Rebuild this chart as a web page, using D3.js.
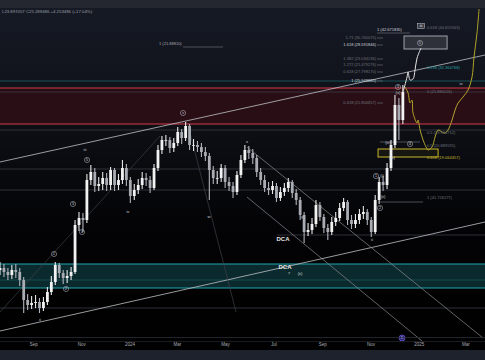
<!DOCTYPE html>
<html><head><meta charset="utf-8">
<script src="https://cdn.jsdelivr.net/npm/d3@7"></script>
<style>body{margin:0;background:#1e222d;overflow:hidden} svg{display:block}</style>
</head><body>
<svg id="c" width="485" height="360"></svg>
<script>
// ---------- data ----------
const startDate = new Date(2023, 6, 21);
const stepDays = 5;
const firstOpen = 7.0;
const closes = [7.2,6.8,6.5,7.0,6.8,6.0,4.0,3.5,3.7,3.8,
 3.2,3.8,4.8,5.8,7.5,6.7,6.2,6.4,6.8,11.5,
 12.2,12.0,16.0,16.8,15.4,15.6,16.2,15.5,17.0,15.5,
 16.0,17.2,16.0,14.4,15.0,15.5,16.2,16.0,15.2,17.2,
 19.0,20.0,20.0,19.2,19.7,20.8,20.2,21.4,19.5,19.5,
 19.3,18.8,18.4,17.0,16.2,16.2,17.2,15.8,15.4,14.8,
 16.5,18.0,19.0,18.7,18.2,16.8,16.0,15.2,15.0,15.4,
 14.2,14.8,15.2,15.8,14.7,14.0,12.5,10.8,11.0,11.6,
 13.5,12.3,11.2,10.8,11.8,12.2,13.2,13.8,12.0,11.6,
 12.0,12.6,12.8,12.0,10.8,14.0,15.8,15.5,17.2,19.5,
 23.5,22.0,24.8];
const highs = [7.8,7.6,7.2,7.5,7.6,7.2,6.3,4.6,4.4,4.5,
 4.2,4.3,5.3,6.4,7.8,7.7,7.0,7.0,7.3,12.0,
 12.8,12.7,16.6,17.5,17.2,16.3,16.8,16.7,17.3,17.2,
 16.6,18.0,17.6,16.3,15.6,16.1,16.8,16.7,16.4,17.6,
 19.5,20.4,20.5,20.3,20.2,21.3,21.1,21.8,21.6,20.1,
 19.9,19.7,19.3,18.7,17.4,16.9,17.6,17.5,16.3,15.8,
 16.9,18.5,19.5,19.4,19.1,18.5,17.2,16.5,15.8,15.9,
 15.7,15.3,15.7,16.2,16.0,15.1,14.3,12.8,11.7,12.2,
 14.0,13.8,12.6,11.6,12.3,12.8,13.7,14.2,14.0,12.5,
 12.6,13.1,13.4,13.1,12.3,14.5,16.3,16.4,17.7,20.0,
 24.5,24.2,25.5];
const lows = [6.5,6.3,6.0,6.1,6.2,5.4,2.7,3.0,3.1,3.2,
 2.7,2.9,3.5,4.5,5.5,6.2,5.6,5.7,6.0,6.6,
 10.9,10.8,11.7,15.5,14.8,14.9,15.0,14.9,15.0,14.9,
 15.0,15.6,15.4,13.7,14.0,14.6,15.1,15.4,14.7,15.0,
 16.9,18.6,19.4,18.7,18.8,19.4,19.6,19.9,19.0,18.9,
 18.8,18.3,17.9,14.0,15.6,15.6,15.8,15.2,14.9,14.2,
 14.5,16.2,17.7,18.1,17.6,16.3,15.5,14.8,14.5,14.6,
 13.8,13.9,14.4,14.8,14.2,13.5,12.0,9.7,10.4,10.6,
 11.3,11.9,10.7,10.0,10.5,11.4,11.9,12.9,11.5,11.1,
 11.2,11.6,12.1,11.5,10.3,10.6,13.6,14.9,15.1,16.9,
 19.2,20.0,21.6];

const tickDates = ["2023-09-01","2023-11-01","2024-01-01","2024-03-01","2024-05-01","2024-07-01","2024-09-01","2024-11-01","2025-01-01","2025-03-01"];
const tickLabels = ["Sep","Nov","2024","Mar","May","Jul","Sep","Nov","2025","Mar"];

// projections: [days from start, price]
const projWhite = [[510.2,24.8],[515.3,26.3],[516.6,26.8],[519.1,26.0],[522.9,26.1],[525.4,27.0],[528.0,28.2],[533.0,29.2]];
const projYellow = [[512.8,25.3],[516.6,24.7],[519.1,23.7],[521.6,24.0],[522.9,22.7],[528.0,21.7],[529.2,22.0],[531.8,21.0],[535.6,20.0],[539.4,19.3],[541.9,19.0],[547.0,19.3],[550.8,20.3],[554.6,21.0],[559.6,20.8],[563.4,20.7],[567.2,21.0],[572.3,22.0],[576.1,23.0],[579.9,23.7],[586.2,24.3],[592.5,25.0],[597.6,26.3],[600.1,28.3],[603.9,30.7],[606.5,33.1]];

// trend lines: [t1,p1,t2,p2,kind]
const trendLines = [[0,17.8,614,28.5,"ch"],[0,0.9,614,11.8,"ch"],[0,2.8,202.6,20.4,"faint"],[238,21.5,298.8,2.8,"faint"],[312.7,19.3,611.5,0.2,"desc"],[312.7,14.3,534.3,-0.1,"desc"]];

// horizontal levels: [price, kind, tStart]
const levels = [[25.9,"teal",0],[24.8,"gray",0],[21.0,"gray",0],[17.1,"gray",0],[15.0,"gray",0],[3.2,"gray",0],[6.0,"cyanFaint",0],[10.5,"gray",350.7]];
const redBand = [21.6, 25.2];
const cyanBand = [5.2, 7.6];
// short segments: [t1,t2,price]
const shortSegs = [[231.7,282.4,29.3],[477.3,519,30.7],[477.3,484.9,30.2],[477.3,484.9,29.5],[477.3,484.9,28.1],[477.3,484.9,27.5],[477.3,484.9,26.8],[477.3,484.9,25.9],[477.3,484.9,23.7],[481,531.8,19.8],[481,535.6,13.8]];
const targetBox = [511.5,566,29.1,30.4];
const yellowBox = [478.6,554.6,18.3,19.1];

// fib labels: [text, t, price, anchor, style]
const fibLabels = [
 ["1.71 (30.740075)",476.1,30.2,"end","dim"],
 ["1.618 (28.591846)",476.1,29.5,"end","bright"],
 ["1.382 (23.034236)",476.1,28.1,"end","dim"],
 ["1.272 (21.479276)",476.1,27.5,"end","dim"],
 ["0.618 (27.798170)",476.1,26.8,"end","dim"],
 ["1 (25.948885)",476.1,25.9,"end","bright"],
 ["0.618 (21.806657)",476.1,23.7,"end","dim"],
 ["1 (42.671835)",477.3,31.0,"start","bright"],
 ["0.618 (44.657063)",540.6,31.2,"start","dim"],
 ["0.236 (32.364768)",540.6,27.2,"start","teal"],
 ["0 (21.880024)",540.6,24.8,"start","dim"],
 ["0.5 (19.944712)",540.6,20.7,"start","dim"],
 ["0.5 (20.889595)",540.6,19.4,"start","dim"],
 ["0.618 (19.064457)",540.6,18.2,"start","yellow"],
 ["1 (41.726177)",540.6,14.2,"start","dim"],
 ["1 (21.88810)",201.3,29.6,"start","mid"]
];
// wave labels: [t, price, text, kind] kind: 0 plain, 1 circled, 2 DCA, 3 boxed
const waveLabels = [
 [50.6,2.0,"ii",0],[68.4,8.6,"1",1],[83.6,5.1,"2",1],[92.4,13.6,"3",1],[103.8,10.8,"4",1],
 [107.6,19.0,"iii",0],[110.2,18.0,"5",1],[162,12.8,"iv",0],[231.7,22.7,"v",1],[264.6,12.3,"w",0],
 [312.7,19.8,"x",0],[382.4,12.3,"y",0],[358.3,10.1,"DCA",2],[360.8,7.3,"DCA",2],[365.9,6.6,"?",0],
 [379.8,6.6,"(ii)",0],[471,10.0,"ii",0],[476,16.4,"1",1],[483.6,16.4,"(i)",0],[484.9,14.3,"(ii)",0],
 [481.1,13.2,"2",1],[491.2,19.7,"(iii)",0],[496.3,18.2,"(iv)",0],[503.9,25.3,"3",1],[503.9,24.7,"(v)",0],
 [519.1,19.6,"4",1],[531.8,29.7,"5",1],[533,31.4,"iii",3],[583.7,25.6,"iv",0]
];
const headerText = "L23.897057  C25.289486  +4.253486 (+17.04%)";
const markerE = [509, 0.2, "E"];

// ---------- drawing ----------
const W = 485, H = 360;
const svg = d3.select("#c");
const T = t => new Date(+startDate + t * 864e5);
const x = d3.scaleTime().domain([startDate, T(614)]).range([0, W]);
const y = d3.scaleLinear().domain([0, 34]).range([340, 0]);
const parse = d3.timeParse("%Y-%m-%d");
const FONT = "'Liberation Sans', Arial, sans-serif";

const defs = svg.append("defs");
const grad = defs.append("linearGradient").attr("id","bg").attr("x1",0).attr("y1",0).attr("x2",0).attr("y2",1);
grad.append("stop").attr("offset","0%").attr("stop-color","#161a25");
grad.append("stop").attr("offset","35%").attr("stop-color","#0d0f15");
grad.append("stop").attr("offset","65%").attr("stop-color","#030305");
grad.append("stop").attr("offset","100%").attr("stop-color","#000000");
defs.append("clipPath").attr("id","clip").append("rect").attr("x",0).attr("y",8).attr("width",W).attr("height",333);

svg.append("rect").attr("width",W).attr("height",H).attr("fill","#1e222d");
svg.append("rect").attr("x",0).attr("y",0).attr("width",W).attr("height",8).attr("fill","#24272f");
svg.append("rect").attr("x",0).attr("y",8).attr("width",W).attr("height",342).attr("fill","url(#bg)");

const g = svg.append("g").attr("clip-path","url(#clip)");

// bands
g.append("rect").attr("x",0).attr("width",W).attr("y",y(redBand[1])).attr("height",y(redBand[0])-y(redBand[1])).attr("fill","#2a0e16");
g.append("rect").attr("x",0).attr("width",W).attr("y",y(cyanBand[1])).attr("height",y(cyanBand[0])-y(cyanBand[1])).attr("fill","#0b2a2e");

// levels
const lvlColor = {teal:"#1d5a60", gray:"#34373f", cyanFaint:"#1a4f55"};
levels.forEach(l => {
  g.append("line").attr("x1",x(T(l[2]))).attr("x2",W).attr("y1",y(l[0])).attr("y2",y(l[0]))
   .attr("stroke",lvlColor[l[1]]).attr("stroke-width",0.9);
});
redBand.forEach(p => g.append("line").attr("x1",0).attr("x2",W).attr("y1",y(p)).attr("y2",y(p)).attr("stroke","#d23a4b").attr("stroke-width",1.2));
cyanBand.forEach(p => g.append("line").attr("x1",0).attr("x2",W).attr("y1",y(p)).attr("y2",y(p)).attr("stroke","#23a6b0").attr("stroke-width",1));

// short segments
shortSegs.forEach(s => g.append("line").attr("x1",x(T(s[0]))).attr("x2",x(T(s[1]))).attr("y1",y(s[2])).attr("y2",y(s[2])).attr("stroke","#5d6069").attr("stroke-width",0.8));

// trend lines
const tlStyle = {ch:["#bfc1c6",0.8], faint:["#3e4048",0.7], desc:["#8a8c92",0.7]};
trendLines.forEach(l => g.append("line").attr("x1",x(T(l[0]))).attr("y1",y(l[1])).attr("x2",x(T(l[2]))).attr("y2",y(l[3]))
  .attr("stroke",tlStyle[l[4]][0]).attr("stroke-width",tlStyle[l[4]][1]));

// boxes
g.append("rect").attr("x",x(T(targetBox[0]))).attr("y",y(targetBox[3])).attr("width",x(T(targetBox[1]))-x(T(targetBox[0]))).attr("height",y(targetBox[2])-y(targetBox[3]))
 .attr("fill","#2e3139").attr("stroke","#9fa2a9").attr("stroke-width",1);
g.append("rect").attr("x",x(T(yellowBox[0]))).attr("y",y(yellowBox[3])).attr("width",x(T(yellowBox[1]))-x(T(yellowBox[0]))).attr("height",y(yellowBox[2])-y(yellowBox[3]))
 .attr("fill","rgba(200,180,30,0.06)").attr("stroke","#cbb82a").attr("stroke-width",1);

// candles
const candles = closes.map((c,i) => ({d:T(i*stepDays), o: i ? closes[i-1] : firstOpen, c, h: highs[i], l: lows[i]}));
const cg = g.append("g");
cg.selectAll("line.w").data(candles).join("line").attr("class","w")
  .attr("x1",d=>x(d.d)).attr("x2",d=>x(d.d)).attr("y1",d=>y(d.h)).attr("y2",d=>y(d.l))
  .attr("stroke",d=>d.c>=d.o?"#e6e6e6":"#b0b3ba").attr("stroke-width",1.1);
cg.selectAll("rect.b").data(candles).join("rect").attr("class","b")
  .attr("x",d=>x(d.d)-1.4).attr("width",2.8)
  .attr("y",d=>y(Math.max(d.o,d.c))).attr("height",d=>Math.max(0.8,Math.abs(y(d.o)-y(d.c))))
  .attr("fill",d=>d.c>=d.o?"#f2f2f2":"#a9acb3");

// projections
const lineGen = d3.line().x(d=>x(T(d[0]))).y(d=>y(d[1])).curve(d3.curveCatmullRom.alpha(0.5));
g.append("path").attr("d",lineGen(projYellow)).attr("fill","none").attr("stroke","#b2a32b").attr("stroke-width",1);
g.append("path").attr("d",lineGen(projWhite)).attr("fill","none").attr("stroke","#e2e2e2").attr("stroke-width",1);

// fib labels
const fibColor = {dim:"#6f727b", mid:"#a5a8b0", bright:"#d1d4dc", teal:"#2aa1a8", yellow:"#c9b62c"};
fibLabels.forEach(f => svg.append("text").attr("x",x(T(f[1]))).attr("y",y(f[2])).attr("dy","0.35em")
  .attr("text-anchor",f[3]).attr("font-family",FONT).attr("font-size",4).attr("fill",fibColor[f[4]]).text(f[0]));

// wave labels
waveLabels.forEach(w => {
  const px = x(T(w[0])), py = y(w[1]);
  if (w[3] === 1) {
    svg.append("circle").attr("cx",px).attr("cy",py).attr("r",2.6).attr("fill","none").attr("stroke","#c4c7ce").attr("stroke-width",0.5);
    svg.append("text").attr("x",px).attr("y",py).attr("dy","0.35em").attr("text-anchor","middle").attr("font-family",FONT).attr("font-size",3.5).attr("fill","#d8dbe2").text(w[2]);
  } else if (w[3] === 2) {
    svg.append("text").attr("x",px).attr("y",py).attr("dy","0.35em").attr("text-anchor","middle").attr("font-family",FONT).attr("font-size",6).attr("font-weight","bold").attr("fill","#e6e6e6").text(w[2]);
  } else if (w[3] === 3) {
    svg.append("rect").attr("x",px-3.5).attr("y",py-2.5).attr("width",7).attr("height",5).attr("fill","#3a3d45").attr("stroke","#c8cad0").attr("stroke-width",0.5);
    svg.append("text").attr("x",px).attr("y",py).attr("dy","0.35em").attr("text-anchor","middle").attr("font-family",FONT).attr("font-size",3.8).attr("fill","#e6e6e6").text(w[2]);
  } else {
    svg.append("text").attr("x",px).attr("y",py).attr("dy","0.35em").attr("text-anchor","middle").attr("font-family",FONT).attr("font-size",4.2).attr("fill","#d1d4dc").text(w[2]);
  }
});

// marker E
svg.append("circle").attr("cx",x(T(markerE[0]))).attr("cy",y(markerE[1])).attr("r",3).attr("fill","#2e2780").attr("stroke","#6b5fd6").attr("stroke-width",0.7);
svg.append("text").attr("x",x(T(markerE[0]))).attr("y",y(markerE[1])).attr("dy","0.35em").attr("text-anchor","middle").attr("font-family",FONT).attr("font-size",3.5).attr("fill","#c9c4ff").text(markerE[2]);

// axis
svg.append("line").attr("x1",0).attr("x2",W).attr("y1",337.5).attr("y2",337.5).attr("stroke","#2a2d35").attr("stroke-width",0.8);
svg.append("line").attr("x1",0).attr("x2",W).attr("y1",341.5).attr("y2",341.5).attr("stroke","#1f2229").attr("stroke-width",0.8);
const axis = d3.axisBottom(x).tickValues(tickDates.map(parse)).tickFormat((d,i)=>tickLabels[i]).tickSize(0).tickPadding(2);
const ag = svg.append("g").attr("transform","translate(0,341)").call(axis);
ag.select(".domain").remove();
ag.selectAll("text").attr("font-family",FONT).attr("font-size",4.5).attr("fill","#a9acb4");

// header
svg.append("text").attr("x",2).attr("y",12.5).attr("font-family",FONT).attr("font-size",4.3).attr("fill","#9a9da6").text(headerText);
</script>
</body></html>
